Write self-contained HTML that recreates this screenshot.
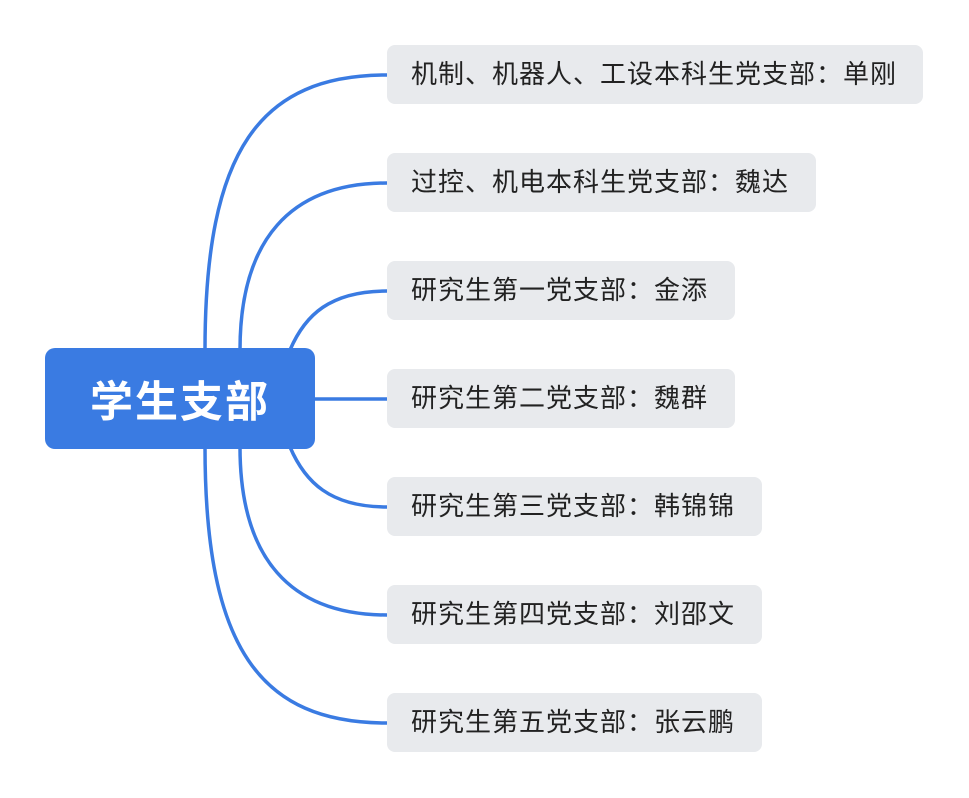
<!DOCTYPE html>
<html><head><meta charset="utf-8"><style>
body{margin:0;background:#fff;width:969px;height:798px;position:relative;overflow:hidden;font-family:"Liberation Sans","Noto Sans CJK SC",sans-serif}
.root{position:absolute;left:45px;top:348px;width:270px;height:101px;background:#3a7be2;border-radius:10px;color:#fff;font-size:43px;font-weight:bold;display:flex;align-items:center;justify-content:center;letter-spacing:2px}
.b{position:absolute;left:387px;height:59px;background:#e8eaed;border-radius:8px;font-size:26px;letter-spacing:1px;color:#222;line-height:59px;padding-left:24px;box-sizing:border-box;white-space:nowrap}
svg{position:absolute;left:0;top:0}
</style></head><body>
<svg width="969" height="798"><g fill="none" stroke="#3a7be2" stroke-width="3.5">
<path d="M205,350 C205,150 260,75 387,75"/>
<path d="M240,350 C240,240 290,183 387,183"/>
<path d="M290,350 C305,315 330,291 387,291"/>
<path d="M315,399 L387,399"/>
<path d="M290,447 C305,482 330,507 387,507"/>
<path d="M240,447 C240,558 290,615 387,615"/>
<path d="M205,447 C205,648 260,723 387,723"/>
</g></svg>
<div class="root">学生支部</div>
<div class="b" style="top:45px;width:536px">机制、机器人、工设本科生党支部：单刚</div>
<div class="b" style="top:153px;width:429px">过控、机电本科生党支部：魏达</div>
<div class="b" style="top:261px;width:348px">研究生第一党支部：金添</div>
<div class="b" style="top:369px;width:348px">研究生第二党支部：魏群</div>
<div class="b" style="top:477px;width:375px">研究生第三党支部：韩锦锦</div>
<div class="b" style="top:585px;width:375px">研究生第四党支部：刘邵文</div>
<div class="b" style="top:693px;width:375px">研究生第五党支部：张云鹏</div>
</body></html>
